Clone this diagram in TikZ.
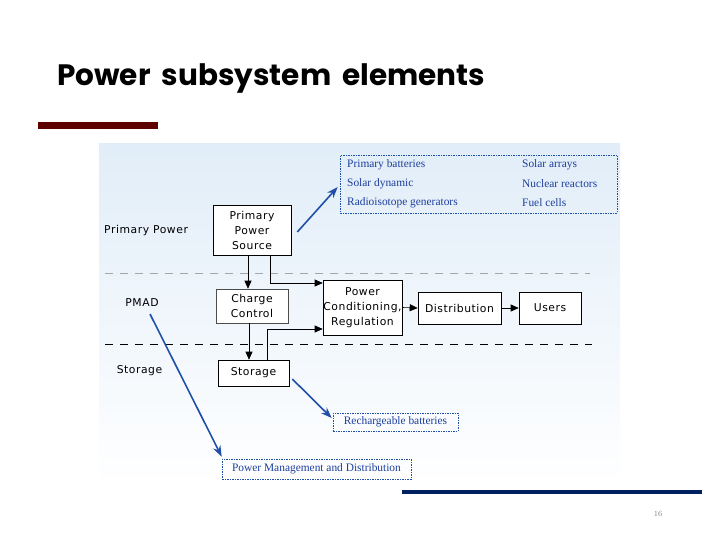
\documentclass[tikz,border=0pt]{standalone}
\usepackage{fontspec}
\usetikzlibrary{arrows.meta}
\newfontfamily\titlefont{Poppins}
\newfontfamily\boxfont[LetterSpace=5]{DejaVu Sans}
\newfontfamily\serfont{Liberation Serif}
\definecolor{panelTop}{HTML}{E1EDF8}
\definecolor{listBlue}{HTML}{1C3E9C}
\definecolor{arrBlue}{HTML}{1F4FA8}
\definecolor{barRed}{HTML}{5C0000}
\definecolor{barBlue}{HTML}{002060}
\tikzset{
  blk/.style={draw=black, line width=0.6pt, fill=white, align=center, inner sep=0pt,
    font=\boxfont\fontsize{10.8}{15}\selectfont},
  lbl/.style={font=\boxfont\fontsize{10.8}{15}\selectfont, inner sep=0pt},
  arr/.style={line width=0.6pt, -{Triangle[length=8pt,width=7pt]}},
  barr/.style={arrBlue, line width=1.6pt, -{Stealth[length=11pt,width=8pt]}},
  dbox/.style={draw=arrBlue, line width=0.6pt, dash pattern=on 1.5pt off 1pt, inner sep=0pt},
  ltxt/.style={text=listBlue, font=\serfont\fontsize{11.4}{13}\selectfont, inner sep=0pt, anchor=west}
}
\begin{document}
\begin{tikzpicture}[x=1pt,y=-1pt]
\useasboundingbox (0,0) rectangle (720,540);
\fill[white] (0,0) rectangle (720,540);
% title and bars
\node[anchor=base west, inner sep=0pt, font=\titlefont\bfseries\fontsize{29.5}{34}\selectfont] (title) at (57,86) {\spaceskip=0.38em Power subsystem elements};
\fill[barRed] (38,122) rectangle (158,129);
\fill[barBlue] (402,490) rectangle (702,494);
\node[text=gray, font=\fontsize{8}{10}\selectfont, inner sep=0pt] (pnum) at (658,514) {16};
% panel
\shade[top color=panelTop, bottom color=white] (99,144) rectangle (620,487);
% dashed separators
\draw[gray!70, line width=0.8pt, dash pattern=on 8pt off 7pt] (105,273) -- (590,273);
\draw[black, line width=0.8pt, dash pattern=on 8pt off 7pt] (105,344) -- (592,344);
% side labels
\node[lbl, anchor=west] (lpp) at (104,231) {Primary Power};
\node[lbl] (pmad) at (142,303) {PMAD};
\node[lbl] (lst) at (139.5,371) {Storage};
% blocks
\node[blk, minimum width=78pt, minimum height=50pt] (pps) at (252,230) {Primary\\Power\\Source};
\node[blk, minimum width=72pt, minimum height=34pt, draw=black!70] (cc) at (252,306) {Charge\\Control};
\node[blk, minimum width=79pt, minimum height=55pt] (pcr) at (362.5,307.5) {Power\\Conditioning,\\Regulation};
\node[blk, minimum width=83pt, minimum height=32pt] (dist) at (459.5,308) {Distribution};
\node[blk, minimum width=62pt, minimum height=32pt] (users) at (550,308) {Users};
\node[blk, minimum width=71pt, minimum height=26pt] (st) at (253.5,373) {Storage};
% dotted blue boxes
\node[dbox, minimum width=277pt, minimum height=58pt] (list) at (478.5,184) {};
\node[ltxt] (t1) at (347,165) {Primary batteries};
\node[ltxt] (t2) at (347,184) {Solar dynamic};
\node[ltxt] (t3) at (347,203) {Radioisotope generators};
\node[ltxt] (t4) at (522,165) {Solar arrays};
\node[ltxt] (t5) at (522,184) {Nuclear reactors};
\node[ltxt] (t6) at (522,203) {Fuel cells};
\node[dbox, minimum width=125pt, minimum height=18pt, text=listBlue, font=\serfont\fontsize{11.4}{13}\selectfont] (rech) at (395.5,422) {Rechargeable batteries};
\node[dbox, minimum width=189pt, minimum height=20pt, text=listBlue, font=\serfont\fontsize{11.4}{13}\selectfont] (pmd) at (316.5,469) {Power Management and Distribution};
% black connectors
\draw[arr] ([xshift=-4pt]pps.south) -- ([xshift=-4pt]cc.north);
\draw[arr] ([xshift=18pt]pps.south) |- ([yshift=24.5pt]pcr.west);
\draw[arr] ([xshift=-3pt]cc.south) -- ([xshift=-4.5pt]st.north);
\draw[arr] ([xshift=13.5pt]st.north) |- ([yshift=-21.5pt]pcr.west);
\draw[arr] (pcr.east) -- (dist.west);
\draw[arr] (dist.east) -- (users.west);
% blue arrows
\draw[barr] ([xshift=6pt,yshift=-2pt]pps.east) -- ([xshift=-2pt,yshift=-3pt]list.west);
\draw[barr] ([xshift=3pt,yshift=-6pt]st.east) -- ([xshift=-1pt,yshift=4pt]rech.west);
\draw[barr] ([xshift=8pt,yshift=-11pt]pmad.center) -- ([yshift=2pt]pmd.north west);
\end{tikzpicture}
\end{document}
